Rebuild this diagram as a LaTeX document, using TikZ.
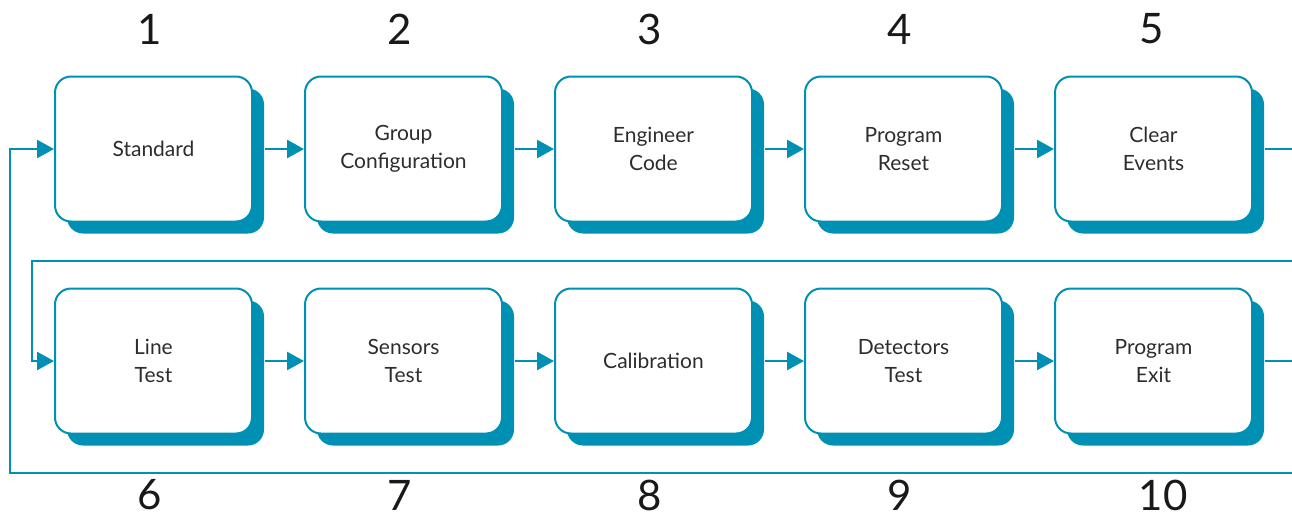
\documentclass[tikz,border=0pt]{standalone}
\usepackage{fontspec}
\setmainfont{Lato}
\usetikzlibrary{arrows.meta,shadows}
\definecolor{teal1}{RGB}{0,144,180}
\definecolor{txt}{RGB}{45,45,45}
\tikzset{
  stepbox/.style={draw=teal1, line width=2pt, fill=white, rounded corners=16pt,
    minimum width=197pt, minimum height=145pt, inner sep=0pt, align=center,
    text=txt, font=\fontsize{21pt}{28pt}\selectfont,
    drop shadow={shadow xshift=12pt, shadow yshift=-12pt, opacity=1, fill=teal1, draw=none}},
  numlabel/.style={text=black!90, font=\fontsize{42pt}{42pt}\selectfont, inner sep=0pt},
  conn/.style={draw=teal1, line width=2.5pt},
  arr/.style={conn, -{Triangle[length=17pt, width=18pt]}}
}
\begin{document}
\begin{tikzpicture}[x=1pt, y=-1pt]
\useasboundingbox (0,0) rectangle (1292,519);
\path (153.5,149) coordinate (c1) (403.5,149) coordinate (c2) (653.5,149) coordinate (c3)
      (903.5,149) coordinate (c4) (1153.5,149) coordinate (c5)
      (153.5,361) coordinate (c6) (403.5,361) coordinate (c7) (653.5,361) coordinate (c8)
      (903.5,361) coordinate (c9) (1153.5,361) coordinate (c10);
% boxes
\node[stepbox] (b1) at (c1) {Standard};
\node[stepbox] (b2) at (c2) {Group\\Configuration};
\node[stepbox] (b3) at (c3) {Engineer\\Code};
\node[stepbox] (b4) at (c4) {Program\\Reset};
\node[stepbox] (b5) at (c5) {Clear\\Events};
\node[stepbox] (b6) at (c6) {Line\\Test};
\node[stepbox] (b7) at (c7) {Sensors\\Test};
\node[stepbox] (b8) at (c8) {Calibration};
\node[stepbox] (b9) at (c9) {Detectors\\Test};
\node[stepbox] (b10) at (c10) {Program\\Exit};
% free ends at the picture's edges
\coordinate (rt1) at (1292,149);
\coordinate (rt2) at (1292,261);
\coordinate (lt) at (32,261);
\coordinate (rb1) at (1292,361);
\coordinate (rb2) at (1292,473);
\coordinate (lb) at (10,473);
% connectors
\foreach \a/\b in {b1/b2,b2/b3,b3/b4,b4/b5,b6/b7,b7/b8,b8/b9,b9/b10}{
  \draw[arr] ([xshift=12pt]\a.east) -- (\b.west);
}
\draw[conn] ([xshift=12pt]b5.east) -- (rt1);
\draw[arr] (rt2) -- (lt) |- (b6.west);
\draw[conn] ([xshift=12pt]b10.east) -- (rb1);
\draw[arr] (rb2) -- (lb) |- (b1.west);
% numbers
\node[numlabel] (n1) at (150,29) {1};
\node[numlabel] (n2) at (400,29) {2};
\node[numlabel] (n3) at (650,29) {3};
\node[numlabel] (n4) at (900,29) {4};
\node[numlabel] (n5) at (1152,29) {5};
\node[numlabel] (n6) at (150,495) {6};
\node[numlabel] (n7) at (400,495) {7};
\node[numlabel] (n8) at (650,495) {8};
\node[numlabel] (n9) at (900,495) {9};
\node[numlabel] (n10) at (1163,495) {10};
\end{tikzpicture}
\end{document}
